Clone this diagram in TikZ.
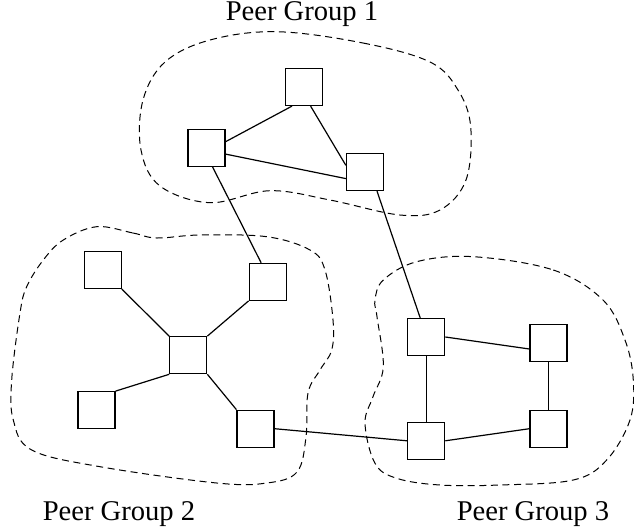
\documentclass[tikz,border=0pt]{standalone}
\usepackage{fontspec}
\setmainfont{Liberation Serif}
\begin{document}
\begin{tikzpicture}[x=0.5pt,y=-0.5pt,
  peer/.style={draw,line width=0.6pt,minimum size=18.5pt,inner sep=0pt},
  link/.style={line width=0.6pt},
  group/.style={line width=0.5pt,dash pattern=on 3.5pt off 2.3pt},
  lbl/.style={font=\fontsize{14.3}{16}\selectfont,anchor=base,inner sep=0pt}]
\useasboundingbox (0,0) rectangle (634,531);
% group 1
\node[peer] (aT) at (304,87) {};
\node[peer] (aL) at (206.5,147.7) {};
\node[peer] (aR) at (365,172) {};
% group 2
\node[peer] (bTL) at (102.7,270) {};
\node[peer] (bTR) at (267.7,281.8) {};
\node[peer] (bC) at (188.3,355.2) {};
\node[peer] (bBL) at (96.5,410.2) {};
\node[peer] (bBR) at (255.5,428.7) {};
% group 3
\node[peer] (cTL) at (426.2,337) {};
\node[peer] (cTR) at (548.5,343) {};
\node[peer] (cBL) at (426.2,440.8) {};
\node[peer] (cBR) at (548.5,428.7) {};
% links
\draw[link] ([yshift=3pt]aL.east) -- ([xshift=-6pt]aT.south);
\draw[link] ([xshift=3.3pt]aT.south) -- ([yshift=3.3pt]aR.west);
\draw[link] ([yshift=-3.2pt]aL.east) -- ([yshift=-3.3pt]aR.west);
\draw[link] ([xshift=3pt]aL.south) -- ([xshift=-3.3pt]bTR.north);
\draw[link] ([xshift=6pt]aR.south) -- ([xshift=-3pt]cTL.north);
\draw[link] (bTL.south east) -- (bC.north west);
\draw[link] (bTR.south west) -- (bC.north east);
\draw[link] (bBL.north east) -- (bC.south west);
\draw[link] (bC.south east) -- (bBR.north west);
\draw[link] (bBR.east) -- (cBL.west);
\draw[link] (cTL.east) -- ([yshift=-3pt]cTR.west);
\draw[link] (cTL) -- (cBL);
\draw[link] (cTR) -- (cBR);
\draw[link] (cBL.east) -- (cBR.west);
% group outlines
\draw[group] plot[smooth cycle,tension=0.6] coordinates {
 (276.7,31.7) (363,43) (430,62) (458,90) (470.7,126.7) (466,180) (440,210)
 (400,215) (330,200) (270,190.7) (210,202.7) (160,186) (141,150) (143,100)
 (165,62) (210,40)};
\draw[group] plot[smooth cycle,tension=0.6] coordinates {
 (96.7,226.7) (133,233) (156.7,238) (200,235) (266.7,236.7) (310,250) (325,270)
 (333,320) (331.7,350) (320,370) (308,393) (306,437) (297,472) (267,483)
 (216.7,483) (100,466.7) (31.7,450) (13.3,420) (11.7,380) (20,313) (26.7,286.7)
 (43.3,260) (63.3,240)};
\draw[group] plot[smooth cycle,tension=0.6] coordinates {
 (473.3,256.7) (553.3,270) (603,300) (625,340) (633.3,380) (630,420) (606.7,460)
 (573.3,480) (500,485) (440,485) (396.7,478.3) (375,463.3) (365,423.3)
 (373,396.7) (383.3,366.7) (377,316.7) (375,300) (383.3,280) (416.7,261.7)};
% labels
\node[lbl] (l1) at (302,20) {Peer Group 1};
\node[lbl] (l2) at (119,520) {Peer Group 2};
\node[lbl] (l3) at (533,520) {Peer Group 3};
\end{tikzpicture}
\end{document}
